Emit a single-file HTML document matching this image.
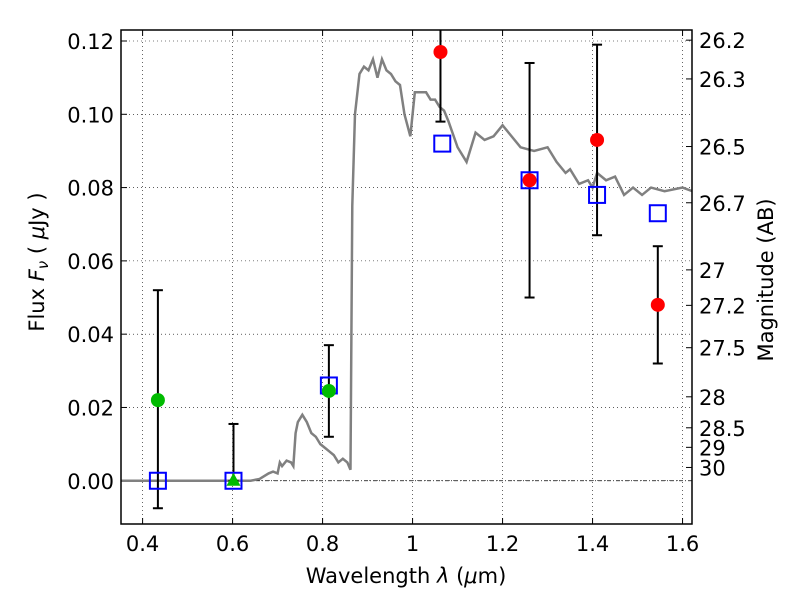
<!DOCTYPE html>
<html><head><meta charset="utf-8"><style>
body{margin:0;background:#fff;}
svg{font-family:"DejaVu Sans","Liberation Sans",sans-serif;}
</style></head><body>
<svg id="c" width="800" height="600"></svg>
<script>
const xTicks=[0.4,0.6,0.8,1.0,1.2,1.4,1.6];
const xTickLabels=["0.4","0.6","0.8","1","1.2","1.4","1.6"];
const yTicks=[0,0.02,0.04,0.06,0.08,0.10,0.12];
const yTickLabels=["0.00","0.02","0.04","0.06","0.08","0.10","0.12"];
const magTicks=[26.2,26.3,26.5,26.7,27,27.2,27.5,28,28.5,29,30];
const specX=[0.35,0.64,0.66,0.68,0.69,0.70,0.705,0.71,0.72,0.73,0.735,0.74,0.745,0.755,0.765,0.775,0.785,0.795,0.805,0.815,0.825,0.835,0.845,0.855,0.862,0.866,0.872,0.882,0.892,0.902,0.912,0.922,0.932,0.942,0.952,0.962,0.972,0.982,0.995,1.005,1.03,1.04,1.05,1.06,1.07,1.08,1.10,1.12,1.14,1.16,1.18,1.20,1.24,1.27,1.30,1.32,1.34,1.35,1.37,1.39,1.40,1.41,1.43,1.45,1.47,1.49,1.51,1.53,1.56,1.60,1.622];
const specY=[0,0,0.0005,0.002,0.0025,0.002,0.005,0.004,0.0055,0.005,0.004,0.013,0.016,0.018,0.016,0.013,0.012,0.010,0.009,0.008,0.007,0.005,0.006,0.005,0.003,0.075,0.100,0.111,0.113,0.112,0.115,0.110,0.115,0.112,0.111,0.109,0.108,0.100,0.094,0.106,0.106,0.104,0.104,0.102,0.101,0.098,0.091,0.087,0.095,0.093,0.094,0.097,0.091,0.090,0.091,0.087,0.084,0.085,0.081,0.082,0.080,0.084,0.082,0.083,0.078,0.080,0.078,0.080,0.079,0.080,0.079];
const modelX=[0.434,0.602,0.814,1.066,1.26,1.41,1.545];
const modelY=[0,0,0.026,0.092,0.082,0.078,0.073];
const redX=[1.062,1.26,1.41,1.545];
const redY=[0.117,0.082,0.093,0.048];
const redLo=[0.098,0.050,0.067,0.032];
const redHi=[0.130,0.114,0.119,0.064];
const greenX=[0.434,0.814];
const greenY=[0.022,0.0245];
const greenLo=[-0.0075,0.012];
const greenHi=[0.052,0.037];
const triX=[0.602];const triY=[0];const triLo=[0];const triHi=[0.0155];

const L=121,R=692,T=30,B=524,X0=0.352,X1=1.621,Y0=-0.0118,Y1=0.123;
const sx=v=>L+(v-X0)/(X1-X0)*(R-L);
const sy=v=>B-(v-Y0)/(Y1-Y0)*(B-T);
const svg=document.getElementById('c');const NS="http://www.w3.org/2000/svg";
function mk(t,a,p){const e=document.createElementNS(NS,t);for(const k in a)e.setAttribute(k,a[k]);(p||svg).appendChild(e);return e;}
const clip=mk('clipPath',{id:'cp'});mk('rect',{x:L,y:T,width:R-L,height:B-T},clip);
xTicks.forEach((v,i)=>{const x=sx(v);
 const g=mk('line',{x1:x,x2:x,y1:T,y2:B,stroke:'#000','stroke-width':0.6,'stroke-dasharray':'1,3'});
 
 mk('line',{x1:x,x2:x,y1:B,y2:B-6,stroke:'#000'});mk('line',{x1:x,x2:x,y1:T,y2:T+6,stroke:'#000'});
 const t=mk('text',{x:x,y:B+27,'text-anchor':'middle','font-size':21});t.textContent=xTickLabels[i];
 });
yTicks.forEach((v,i)=>{const y=sy(v);
 const g=mk('line',{x1:L,x2:R,y1:y,y2:y,stroke:'#000','stroke-width':0.6,'stroke-dasharray':'1,3'});
 
 mk('line',{x1:L,x2:L+6,y1:y,y2:y,stroke:'#000'});
 const t=mk('text',{x:L-7,y:y+8,'text-anchor':'end','font-size':21});t.textContent=yTickLabels[i];
 });
magTicks.forEach(m=>{const f=Math.pow(10,(23.9-m)/2.5);const y=sy(f);
 mk('line',{x1:R,x2:R-6,y1:y,y2:y,stroke:'#000'});
 const t=mk('text',{x:R+7,y:y+8,'font-size':21});t.textContent=String(m);
 });
const z=mk('line',{x1:L,x2:R,y1:sy(0),y2:sy(0),stroke:'#000','stroke-width':0.7,'stroke-dasharray':'4,2,1,2'});

const pg=mk('g',{'clip-path':'url(#cp)'});
const sp=mk('polyline',{points:specX.map((x,i)=>sx(x)+','+sy(specY[i])).join(' '),fill:'none',stroke:'#808080','stroke-width':2.5},pg);

function err(xs,lo,hi){xs.forEach((x,i)=>{const X=sx(x);
 const e=mk('line',{x1:X,x2:X,y1:sy(lo[i]),y2:sy(hi[i]),stroke:'#000','stroke-width':2},pg);
 
 mk('line',{x1:X-5,x2:X+5,y1:sy(lo[i]),y2:sy(lo[i]),stroke:'#000','stroke-width':2},pg);
 mk('line',{x1:X-5,x2:X+5,y1:sy(hi[i]),y2:sy(hi[i]),stroke:'#000','stroke-width':2},pg);});}
err(redX,redLo,redHi);err(greenX,greenLo,greenHi);err(triX,triLo,triHi);
modelX.forEach((x,i)=>{const r=mk('rect',{x:sx(x)-8,y:sy(modelY[i])-8,width:16,height:16,fill:'none',stroke:'#0000ff','stroke-width':2},pg);
 });
redX.forEach((x,i)=>{const c=mk('circle',{cx:sx(x),cy:sy(redY[i]),r:7,fill:'#ff0000'},pg);
 });
greenX.forEach((x,i)=>{const c=mk('circle',{cx:sx(x),cy:sy(greenY[i]),r:7,fill:'#00bb00'},pg);
 });
triX.forEach((x,i)=>{const X=sx(x),Y=sy(triY[i]);const p=mk('polygon',{points:`${X},${Y-8} ${X-7},${Y+5} ${X+7},${Y+5}`,fill:'#00bb00'},pg);
 });
const fr=mk('rect',{x:L,y:T,width:R-L,height:B-T,fill:'none',stroke:'#000','stroke-width':1.5});

let t=mk('text',{x:406,y:583,'text-anchor':'middle','font-size':21});t.innerHTML='Wavelength  <tspan font-style="italic">λ</tspan> (<tspan font-style="italic">μ</tspan>m)';

t=mk('text',{x:0,y:0,'text-anchor':'middle','font-size':21,transform:'translate(44,262) rotate(-90)'});t.innerHTML='Flux  <tspan font-style="italic">F</tspan><tspan font-style="italic" font-size="15" dy="4">ν</tspan><tspan dy="-4">  (  </tspan><tspan font-style="italic">μ</tspan>Jy )';

t=mk('text',{x:0,y:0,'text-anchor':'middle','font-size':21,transform:'translate(773,280) rotate(-90)'});t.textContent='Magnitude (AB)';

</script>
</body></html>
